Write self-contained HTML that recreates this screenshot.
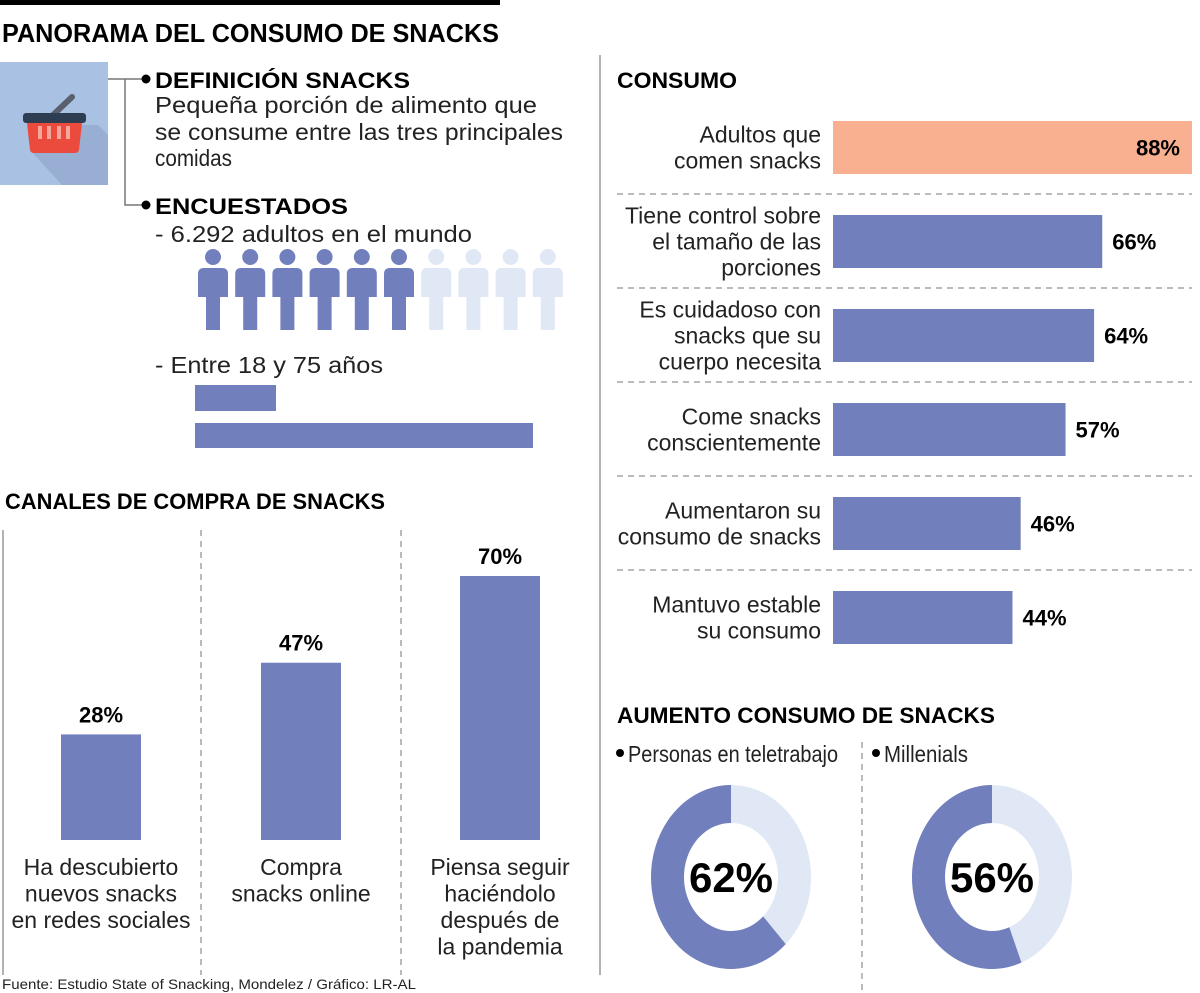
<!DOCTYPE html>
<html><head><meta charset="utf-8"><style>
html,body{margin:0;padding:0;background:#fff;}
svg{display:block;font-family:"Liberation Sans",sans-serif;}
.b{font-weight:bold;}
</style></head><body>
<svg id="s" width="1200" height="993" viewBox="0 0 1200 993" xmlns="http://www.w3.org/2000/svg">
<rect x="0" y="0" width="500" height="5" fill="#000"/>
<text x="2" y="42" class="b" font-size="26" textLength="497" lengthAdjust="spacingAndGlyphs">PANORAMA DEL CONSUMO DE SNACKS</text>

<g>
<rect x="0" y="62" width="108" height="123" fill="#a9c2e3"/>
<polygon points="45,125 98,125 108,135 108,185 62,185 30,150" fill="#98aed3"/>
<line x1="53" y1="115" x2="72" y2="97" stroke="#5a5f6e" stroke-width="6" stroke-linecap="round"/>
<rect x="23" y="113" width="63" height="10" rx="3" fill="#2e3e52"/>
<path d="M27,123 H82 L79,150 Q78,153 75,153 H34 Q31,153 30,150 Z" fill="#eb4b3d"/>
<g fill="#f7a49b"><rect x="38" y="126" width="4" height="13"/><rect x="47" y="126" width="4" height="13"/><rect x="57" y="126" width="4" height="13"/><rect x="66" y="126" width="4" height="13"/></g>
</g>
<g stroke="#777" stroke-width="1.5" fill="none">
<path d="M108,79 H125 M125,79 V205 H145 M125,79 H145"/>
</g>
<circle cx="146" cy="79" r="4.5" fill="#000"/>
<circle cx="146" cy="205" r="4.5" fill="#000"/>
<text x="155" y="88" class="b" font-size="22" textLength="255" lengthAdjust="spacingAndGlyphs">DEFINICIÓN SNACKS</text>
<g font-size="23" fill="#222">
<text x="155" y="113" textLength="382" lengthAdjust="spacingAndGlyphs">Pequeña porción de alimento que</text>
<text x="155" y="140" textLength="408" lengthAdjust="spacingAndGlyphs">se consume entre las tres principales</text>
<text x="155" y="166" textLength="77" lengthAdjust="spacingAndGlyphs">comidas</text>
</g>
<text x="155" y="214" class="b" font-size="22" textLength="193" lengthAdjust="spacingAndGlyphs">ENCUESTADOS</text>
<text x="155" y="242" font-size="23" fill="#222" textLength="317" lengthAdjust="spacingAndGlyphs">- 6.292 adultos en el mundo</text>
<g id="people"></g>
<text x="155" y="373" font-size="23" fill="#222" textLength="228" lengthAdjust="spacingAndGlyphs">- Entre 18 y 75 años</text>
<rect x="195" y="385" width="81" height="26" fill="#717fbd"/>
<rect x="195" y="423" width="338" height="25" fill="#717fbd"/>

<text x="5" y="509" class="b" font-size="22" textLength="380" lengthAdjust="spacingAndGlyphs">CANALES DE COMPRA DE SNACKS</text>
<line x1="3" y1="530" x2="3" y2="975" stroke="#999" stroke-width="1.5"/>
<line x1="201" y1="530" x2="201" y2="975" stroke="#777" stroke-dasharray="6,5"/>
<line x1="401" y1="530" x2="401" y2="975" stroke="#777" stroke-dasharray="6,5"/>
<g id="canales"></g>
<text x="2" y="989" font-size="14" fill="#222" textLength="414" lengthAdjust="spacingAndGlyphs">Fuente: Estudio State of Snacking, Mondelez / Gráfico: LR-AL</text>

<line x1="600" y1="55" x2="600" y2="975" stroke="#999" stroke-width="1.5"/>
<text x="617" y="88" class="b" font-size="22" textLength="120" lengthAdjust="spacingAndGlyphs">CONSUMO</text>
<g id="consumo"></g>

<text x="617" y="723" class="b" font-size="22" textLength="378" lengthAdjust="spacingAndGlyphs">AUMENTO CONSUMO DE SNACKS</text>
<circle cx="620" cy="753" r="4" fill="#000"/>
<text x="628" y="762" font-size="23" fill="#222" textLength="210" lengthAdjust="spacingAndGlyphs">Personas en teletrabajo</text>
<line x1="862" y1="742" x2="862" y2="990" stroke="#777" stroke-dasharray="6,5"/>
<circle cx="876" cy="753" r="4" fill="#000"/>
<text x="884" y="762" font-size="23" fill="#222" textLength="84" lengthAdjust="spacingAndGlyphs">Millenials</text>
<g id="donuts"></g>
</svg>
<script>
const NS="http://www.w3.org/2000/svg";
const PURPLE="#717fbd", LIGHT="#e0e7f5", ORANGE="#f9b091";
// people pictogram data
const peopleTotal=10;
const peopleFilled=6;
// canales chart data
const canalesValues=[28,47,70];
const canalesLabels=[["Ha descubierto","nuevos snacks","en redes sociales"],["Compra","snacks online"],["Piensa seguir","haciéndolo","después de","la pandemia"]];
const canalesNames=["redes-sociales","online","post-pandemia"];
// consumo chart data
const consumoValues=[88,66,64,57,46,44];
const consumoLabels=[["Adultos que","comen snacks"],["Tiene control sobre","el tamaño de las","porciones"],["Es cuidadoso con","snacks que su","cuerpo necesita"],["Come snacks","conscientemente"],["Aumentaron su","consumo de snacks"],["Mantuvo estable","su consumo"]];
// donut data
const donutValues=[62,56];
const donutNames=["teletrabajo","millenials"];

function mk(tag,attrs,parent,text){const e=document.createElementNS(NS,tag);for(const k in attrs)e.setAttribute(k,attrs[k]);if(text!==undefined)e.textContent=text;parent.appendChild(e);return e;}

const pg=document.getElementById('people');
for(let i=0;i<peopleTotal;i++){
  const cx=213+i*37.2, col=i<peopleFilled?PURPLE:LIGHT;
  const g=mk('g',{fill:col},pg);
  
  
  mk('circle',{cx:cx,cy:257,r:8},g);
  mk('path',{d:`M${cx-15},${274} Q${cx-15},268 ${cx-9},268 H${cx+9} Q${cx+15},268 ${cx+15},274 V297 H${cx+7} V330 H${cx-7} V297 H${cx-15} Z`},g);
}

const cg=document.getElementById('canales');
const cBase=840, cScale=264/70, cCenters=[101,301,500];
function cy(v){return cBase-v*cScale;}
canalesValues.forEach((v,i)=>{
  const x=cCenters[i];
  const r=mk('rect',{x:x-40,y:cy(v),width:80,height:cBase-cy(v),fill:PURPLE},cg);
  
  
  const t=mk('text',{x:x,y:cy(v)-12,'text-anchor':'middle','font-size':22,'font-weight':'bold'},cg,v+'%');
  
  
  canalesLabels[i].forEach((ln,j)=>{
    const l=mk('text',{x:x,y:875+j*26.5,'text-anchor':'middle','font-size':23,fill:'#222'},cg,ln);
    
    
  });
});

const kg=document.getElementById('consumo');
const kX0=833, kScale=359/88, kTop=121, kStep=94, kH=53;
function kw(v){return v*kScale;}
consumoValues.forEach((v,i)=>{
  const top=kTop+i*kStep, mid=top+kH/2;
  const r=mk('rect',{x:kX0,y:top,width:kw(v),height:kH,fill:i===0?ORANGE:PURPLE},kg);
  
  
  const t=i===0?mk('text',{x:kX0+kw(v)-12,y:mid+8,'text-anchor':'end','font-size':22,'font-weight':'bold'},kg,v+'%')
               :mk('text',{x:kX0+kw(v)+10,y:mid+8,'font-size':22,'font-weight':'bold'},kg,v+'%');
  
  
  const lines=consumoLabels[i], n=lines.length;
  lines.forEach((ln,j)=>{
    const l=mk('text',{x:821,y:mid+8+(j-(n-1)/2)*26,'text-anchor':'end','font-size':23,fill:'#222'},kg,ln);
    
    
  });
  if(i<consumoValues.length-1){
    const d=mk('line',{x1:617,x2:1192,y1:top+kH+20,y2:top+kH+20,stroke:'#777','stroke-dasharray':'6,5'},kg);
    
    
  }
});

const dg=document.getElementById('donuts');
const dCenters=[731,992], dCy=877, ROx=80, ROy=92, RIx=47, RIy=54;
function pt(a,rx,ry,cx){return [cx+rx*Math.sin(a),dCy-ry*Math.cos(a)];}
function arc(cx,a0,a1,fill){
  const large=(a1-a0)>Math.PI?1:0;
  const p0=pt(a0,ROx,ROy,cx),p1=pt(a1,ROx,ROy,cx),q1=pt(a1,RIx,RIy,cx),q0=pt(a0,RIx,RIy,cx);
  return mk('path',{d:`M${p0} A${ROx},${ROy} 0 ${large} 1 ${p1} L${q1} A${RIx},${RIy} 0 ${large} 0 ${q0} Z`,fill:fill},dg);
}
donutValues.forEach((v,i)=>{
  const cx=dCenters[i], split=(1-v/100)*2*Math.PI;
  const a=arc(cx,0,split,LIGHT);
  
  
  const b=arc(cx,split,2*Math.PI,PURPLE);
  
  
  const t=mk('text',{x:cx,y:dCy+15,'text-anchor':'middle','font-size':42,'font-weight':'bold'},dg,v+'%');
  
  
});
</script>
</body></html>
